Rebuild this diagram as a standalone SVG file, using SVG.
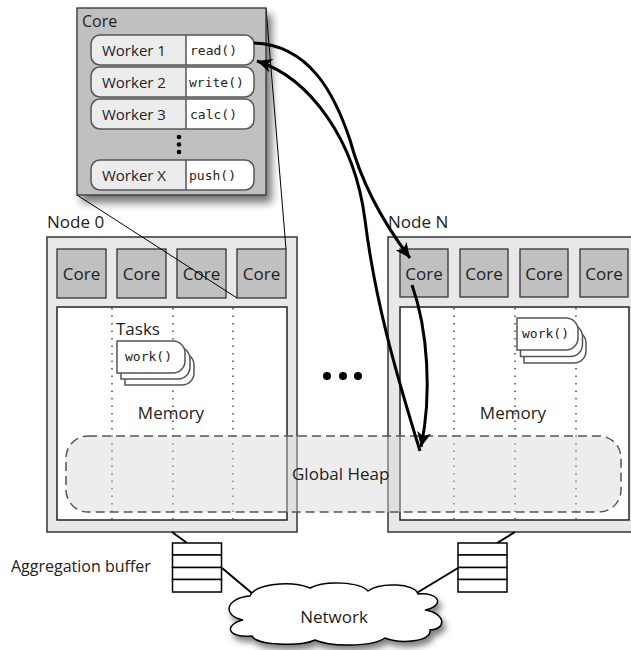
<svg xmlns="http://www.w3.org/2000/svg" width="631" height="650" viewBox="0 0 631 650">
<defs>
<style>
.t{font-family:"Open Sans","Noto Sans","Liberation Sans",sans-serif;fill:#222}
.m{font-family:"DejaVu Sans Mono","Liberation Mono",monospace;fill:#222;font-size:13px}
.outer{fill:#e8e8e8;stroke:#333;stroke-width:1.5}
.core{fill:#c0c0c0;stroke:#333;stroke-width:1.3}
.inner{fill:#fff;stroke:#222;stroke-width:1.5}
.dot{stroke:#555;stroke-width:1.6;stroke-dasharray:1.5 6;fill:none}
.task{fill:#fff;stroke:#555;stroke-width:1.5}
.wk{fill:#ececec;stroke:none}
.wr{fill:#fff;stroke:none}
.wo{fill:none;stroke:#555;stroke-width:1.5}
.curve{fill:none;stroke:#000;stroke-width:3}
.thin{fill:none;stroke:#000;stroke-width:1}
.link{fill:none;stroke:#000;stroke-width:2}
.buf{fill:#fff;stroke:#000;stroke-width:1.5}
</style>
<filter id="sh" x="-20%" y="-20%" width="150%" height="150%">
<feDropShadow dx="5" dy="7" stdDeviation="4" flood-color="#000" flood-opacity="0.55"/>
</filter>
<filter id="sh2" x="-20%" y="-30%" width="150%" height="170%">
<feDropShadow dx="3" dy="5" stdDeviation="3" flood-color="#000" flood-opacity="0.5"/>
</filter>
<marker id="ah" viewBox="0 0 16 14" markerWidth="16" markerHeight="14" refX="15" refY="7" orient="auto" markerUnits="userSpaceOnUse">
<path d="M0,0 L15,7 L0,14 L4,7 Z" fill="#000"/>
</marker>
</defs>

<g id="node0">
<rect class="outer" x="47" y="237" width="250" height="295"/>
<rect class="core" x="57" y="249" width="49" height="49"/>
<rect class="core" x="117" y="249" width="49" height="49"/>
<rect class="core" x="177" y="249" width="49" height="49"/>
<rect class="core" x="237" y="249" width="49" height="49"/>
<text class="t" font-size="17" x="81.5" y="280" text-anchor="middle">Core</text>
<text class="t" font-size="17" x="141.5" y="280" text-anchor="middle">Core</text>
<text class="t" font-size="17" x="201.5" y="280" text-anchor="middle">Core</text>
<text class="t" font-size="17" x="261.5" y="280" text-anchor="middle">Core</text>
<rect class="inner" x="57" y="307" width="230" height="213"/>
<line class="dot" x1="112" y1="308" x2="112" y2="520"/>
<line class="dot" x1="173" y1="308" x2="173" y2="520"/>
<line class="dot" x1="233" y1="308" x2="233" y2="520"/>
<text class="t" font-size="17" x="116" y="335">Tasks</text>
<path class="task" d="M125,353 H182 A12,12 0 0 1 194,365 V373 A12,12 0 0 1 182,385 H125 Z"/>
<path class="task" d="M121,347 H178 A12,12 0 0 1 190,359 V367 A12,12 0 0 1 178,379 H121 Z"/>
<path class="task" d="M117,341 H173 A12,12 0 0 1 185,353 V361 A12,12 0 0 1 173,373 H117 Z"/>
<text class="m" x="125" y="361">work()</text>
<text class="t" font-size="17" x="171" y="419" text-anchor="middle">Memory</text>
</g>

<g id="nodeN">
<rect class="outer" x="388" y="237" width="260" height="295"/>
<rect class="core" x="400" y="249" width="48" height="48"/>
<rect class="core" x="460" y="249" width="48" height="48"/>
<rect class="core" x="520" y="249" width="48" height="48"/>
<rect class="core" x="580" y="249" width="48" height="48"/>
<text class="t" font-size="17" x="424" y="280" text-anchor="middle">Core</text>
<text class="t" font-size="17" x="484" y="280" text-anchor="middle">Core</text>
<text class="t" font-size="17" x="544" y="280" text-anchor="middle">Core</text>
<text class="t" font-size="17" x="604" y="280" text-anchor="middle">Core</text>
<rect class="inner" x="400" y="307" width="229" height="213"/>
<line class="dot" x1="454" y1="308" x2="454" y2="520"/>
<line class="dot" x1="515" y1="308" x2="515" y2="520"/>
<line class="dot" x1="576" y1="308" x2="576" y2="520"/>
<path class="task" d="M524,331 H574 A12,12 0 0 1 586,343 V351 A12,12 0 0 1 574,363 H524 Z"/>
<path class="task" d="M520.5,324.5 H570.5 A12,12 0 0 1 582.5,336.5 V344.5 A12,12 0 0 1 570.5,356.5 H520.5 Z"/>
<path class="task" d="M517,318 H566 A12,12 0 0 1 578,330 V338 A12,12 0 0 1 566,350 H517 Z"/>
<text class="m" x="522" y="338">work()</text>
<text class="t" font-size="17" x="513" y="419" text-anchor="middle">Memory</text>
</g>

<g id="labels">
<text class="t" font-size="17" x="47" y="228">Node 0</text>
<text class="t" font-size="17" x="388" y="228">Node N</text>
<circle cx="327" cy="376" r="4" fill="#000"/>
<circle cx="343" cy="376" r="4" fill="#000"/>
<circle cx="358" cy="376" r="4" fill="#000"/>
</g>

<g id="heap">
<rect x="66" y="436" width="555" height="76" rx="22" fill="#d6d6d6" fill-opacity="0.45" stroke="#555" stroke-width="1.5" stroke-dasharray="9 5"/>
<text class="t" font-size="17" x="292" y="480">Global Heap</text>
</g>

<g id="connectors">
<line class="thin" x1="266" y1="8" x2="286" y2="249"/>
<line class="thin" x1="77" y1="195" x2="237" y2="298"/>
<line class="link" x1="172" y1="532" x2="187" y2="543"/>
<line class="link" x1="222" y1="568" x2="253" y2="594"/>
<line class="link" x1="515" y1="532" x2="497" y2="543"/>
<line class="link" x1="458" y1="568" x2="415" y2="594"/>
</g>

<g id="coreDetail">
<rect x="77" y="8" width="189" height="187" fill="#c0c0c0" stroke="#333" stroke-width="1.3" filter="url(#sh)"/>
<text class="t" font-size="16" x="82" y="27">Core</text>
<g id="worker1">
<rect class="wk" x="91" y="35" width="163" height="30" rx="9"/>
<path class="wr" d="M186,35 H245 A9,9 0 0 1 254,44 V56 A9,9 0 0 1 245,65 H186 Z"/>
<rect class="wo" x="91" y="35" width="163" height="30" rx="9"/>
<line class="wo" x1="186" y1="35" x2="186" y2="65"/>
<text class="t" font-size="15" x="102" y="56">Worker 1</text>
<text class="m" x="190" y="55">read()</text>
</g>
<g id="worker2">
<rect class="wk" x="91" y="67" width="163" height="30" rx="9"/>
<path class="wr" d="M186,67 H245 A9,9 0 0 1 254,76 V88 A9,9 0 0 1 245,97 H186 Z"/>
<rect class="wo" x="91" y="67" width="163" height="30" rx="9"/>
<line class="wo" x1="186" y1="67" x2="186" y2="97"/>
<text class="t" font-size="15" x="102" y="88">Worker 2</text>
<text class="m" x="189" y="87">write()</text>
</g>
<g id="worker3">
<rect class="wk" x="91" y="99" width="163" height="30" rx="9"/>
<path class="wr" d="M186,99 H245 A9,9 0 0 1 254,108 V120 A9,9 0 0 1 245,129 H186 Z"/>
<rect class="wo" x="91" y="99" width="163" height="30" rx="9"/>
<line class="wo" x1="186" y1="99" x2="186" y2="129"/>
<text class="t" font-size="15" x="102" y="120">Worker 3</text>
<text class="m" x="190" y="119">calc()</text>
</g>
<circle cx="179" cy="137" r="2.3" fill="#000"/>
<circle cx="179" cy="144.5" r="2.3" fill="#000"/>
<circle cx="179" cy="152" r="2.3" fill="#000"/>
<g id="workerX">
<rect class="wk" x="91" y="160" width="163" height="30" rx="9"/>
<path class="wr" d="M186,160 H245 A9,9 0 0 1 254,169 V181 A9,9 0 0 1 245,190 H186 Z"/>
<rect class="wo" x="91" y="160" width="163" height="30" rx="9"/>
<line class="wo" x1="186" y1="160" x2="186" y2="190"/>
<text class="t" font-size="15" x="102" y="181">Worker X</text>
<text class="m" x="189" y="180">push()</text>
</g>
</g>

<g id="curves">
<path class="curve" d="M254,43 C310,45 335,95 350,140 C362,185 385,225 410,258" marker-end="url(#ah)"/>
<path class="curve" d="M420,451 C395,370 375,300 365,220 C355,140 310,78 257,61" marker-end="url(#ah)"/>
<path class="curve" d="M412,285 C428,330 432,395 421,447" marker-end="url(#ah)"/>
</g>

<g id="buffer0">
<rect class="buf" x="172.5" y="543" width="49" height="12"/>
<rect class="buf" x="172.5" y="555" width="49" height="12.5"/>
<rect class="buf" x="172.5" y="567.5" width="49" height="12"/>
<rect class="buf" x="172.5" y="579.5" width="49" height="12.5"/>
<text class="t" font-size="16" x="11" y="572">Aggregation buffer</text>
</g>
<g id="bufferN">
<rect class="buf" x="458" y="543" width="49" height="12"/>
<rect class="buf" x="458" y="555" width="49" height="12.5"/>
<rect class="buf" x="458" y="567.5" width="49" height="12"/>
<rect class="buf" x="458" y="579.5" width="49" height="12.5"/>
</g>

<g id="network">
<path d="M250,596 C255,584 290,580 310,588 C325,580 360,582 368,591 C380,582 415,583 418,594 C440,592 445,606 425,610 C448,614 445,630 430,630 C432,642 400,644 385,638 C372,647 330,647 315,640 C300,647 255,645 252,636 C225,638 225,624 243,620 C222,616 225,598 250,596 Z" fill="#fff" stroke="#000" stroke-width="1.5" filter="url(#sh2)"/>
<text class="t" font-size="17" x="334" y="623" text-anchor="middle">Network</text>
</g>
</svg>
